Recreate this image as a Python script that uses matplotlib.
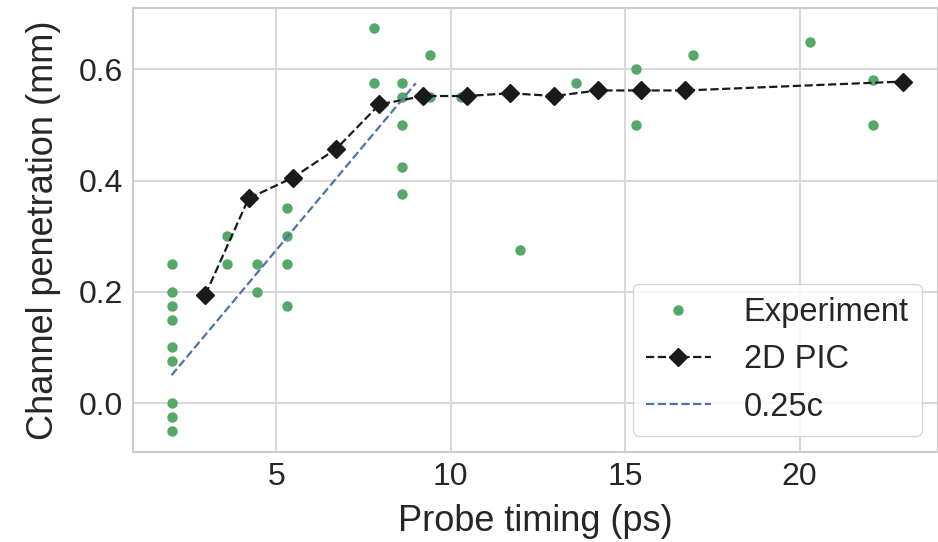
import matplotlib
matplotlib.use("Agg")
import matplotlib.pyplot as plt
import seaborn as sns

# experimental channel penetration
exp_t = [2, 2, 2, 2, 2, 2, 2, 2, 2,
         3.6, 3.6, 4.45, 4.45, 5.3, 5.3, 5.3, 5.3,
         7.8, 7.8, 8.6, 8.6, 8.6, 8.6, 8.6, 9.4, 9.4, 10.3,
         12.0, 13.6, 15.3, 15.3, 16.95, 20.3, 22.1, 22.1]
exp_p = [0.25, 0.2, 0.175, 0.15, 0.1, 0.075, 0.0, -0.025, -0.05,
         0.3, 0.25, 0.25, 0.2, 0.35, 0.3, 0.25, 0.175,
         0.675, 0.575, 0.575, 0.55, 0.5, 0.425, 0.375, 0.625, 0.55, 0.55,
         0.275, 0.575, 0.6, 0.5, 0.625, 0.65, 0.58, 0.5]

# 2D PIC simulation
pic_t = [2.97, 4.21, 5.47, 6.72, 7.96, 9.22, 10.46, 11.7, 12.97, 14.22, 15.46, 16.72, 22.96]
pic_p = [0.195, 0.368, 0.405, 0.457, 0.537, 0.552, 0.552, 0.557, 0.552, 0.562, 0.562, 0.562, 0.578]

# 0.25c reference line
ref_t = [2, 9]
ref_p = [0.05, 0.575]

sns.set_style("whitegrid")
plt.rcParams['font.family'] = ['Liberation Sans', 'DejaVu Sans']

fig = plt.figure(figsize=(9.38, 5.42), dpi=100)
ax = fig.add_axes([0.142, 0.166, 0.858, 0.819])

ax.plot(exp_t, exp_p, 'o', color='#55a868', markersize=6.5, label='Experiment')
ax.plot(pic_t, pic_p, '--D', color='#1a1a1a', markersize=9, linewidth=1.6, label='2D PIC')
ax.plot(ref_t, ref_p, '--', color='#4c72b0', linewidth=1.6, label='0.25c')

ax.set_xlim(0.9, 23.97)
ax.set_ylim(-0.088, 0.71)
ax.set_xticks([5, 10, 15, 20])
ax.set_yticks([0.0, 0.2, 0.4, 0.6])
ax.tick_params(labelsize=23, colors='#262626')
ax.set_xlabel('Probe timing (ps)', fontsize=26, color='#262626', labelpad=9)
ax.set_ylabel('Channel penetration (mm)', fontsize=26, color='#262626', labelpad=13)
for s in ax.spines.values():
    s.set_color('#cccccc')
    s.set_linewidth(1.5)
ax.grid(color='#d9d9d9', linewidth=1.5)

ax.legend(loc='lower right', fontsize=23.5, handlelength=2.0, handletextpad=1.0,
          borderaxespad=0.5)

fig.savefig('out.png', dpi=100)
